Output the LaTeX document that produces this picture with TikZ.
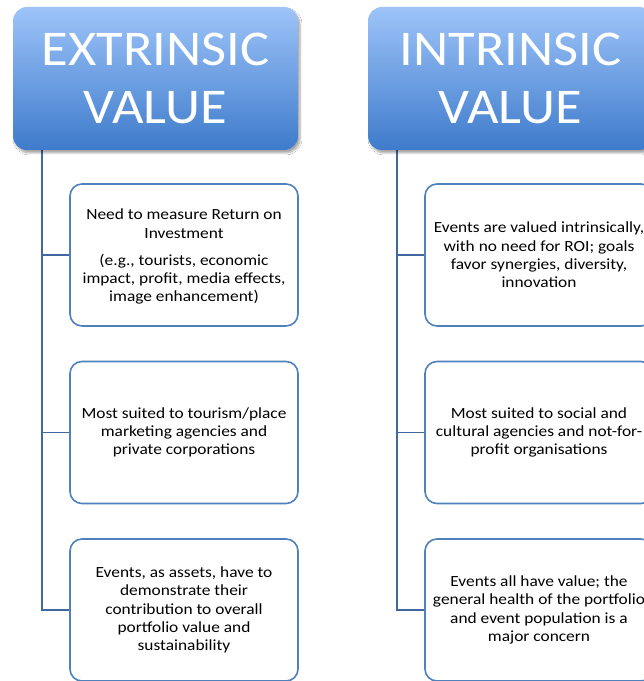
\documentclass[tikz,border=0pt]{standalone}
\usepackage{fontspec}
\setmainfont{Carlito}
\newfontfamily\headfont[FakeStretch=1.09]{Carlito}
\newfontfamily\bodyfont[FakeStretch=1.12]{Carlito}
\usetikzlibrary{shadows.blur}
\definecolor{hdtop}{RGB}{158,196,249}
\definecolor{hdbot}{RGB}{62,123,203}
\definecolor{boxline}{RGB}{79,129,189}
\definecolor{trunk}{RGB}{66,103,158}
\tikzset{
  header/.style={rounded corners=14pt, top color=hdtop, bottom color=hdbot,
    minimum width=285pt, minimum height=143pt, inner sep=0pt,
    text=white, align=center,
    font=\headfont\fontsize{50}{58}\selectfont,
    blur shadow={shadow xshift=2pt, shadow yshift=-3pt, shadow blur steps=6, shadow opacity=35}},
  itembox/.style={draw=boxline, line width=1.6pt, rounded corners=12pt, fill=white,
    minimum width=228pt, minimum height=142pt, inner sep=0pt,
    align=center, font=\bodyfont\fontsize{15.5}{18.3}\selectfont},
  link/.style={draw=trunk, line width=1.8pt}
}
\begin{document}
\begin{tikzpicture}[x=1pt,y=1pt]
\useasboundingbox (0,0) rectangle (644,681);
\clip (0,0) rectangle (644,681);
\fill[white] (0,0) rectangle (644,681);

% extrinsic column
\coordinate (tL) at (42,531);
\node[itembox] (L1) at (184,426) {\\[-4pt]Need to measure Return on\\Investment\\[9pt](e.g., tourists, economic\\impact, profit, media effects,\\image enhancement)};
\node[itembox] (L2) at (184,248.5) {Most suited to tourism/place\\marketing agencies and\\private corporations};
\node[itembox] (L3) at (184,71) {Events, as assets, have to\\demonstrate their\\contribution to overall\\portfolio value and\\sustainability};
\draw[link] (tL) |- (L3.west);
\draw[link] (tL) |- (L1.west);
\draw[link] (tL) |- (L2.west);
\node[header] (HL) at (155.5,602.5) {EXTRINSIC\\VALUE};

% intrinsic column
\coordinate (tR) at (397,531);
\node[itembox] (R1) at (539,426) {Events are valued intrinsically,\\with no need for ROI; goals\\favor synergies, diversity,\\innovation};
\node[itembox] (R2) at (539,248.5) {Most suited to social and\\cultural agencies and not-for-\\profit organisations};
\node[itembox] (R3) at (539,71) {Events all have value; the\\general health of the portfolio\\and event population is a\\major concern};
\draw[link] (tR) |- (R3.west);
\draw[link] (tR) |- (R1.west);
\draw[link] (tR) |- (R2.west);
\node[header] (HR) at (510.5,602.5) {INTRINSIC\\VALUE};
\end{tikzpicture}
\end{document}
